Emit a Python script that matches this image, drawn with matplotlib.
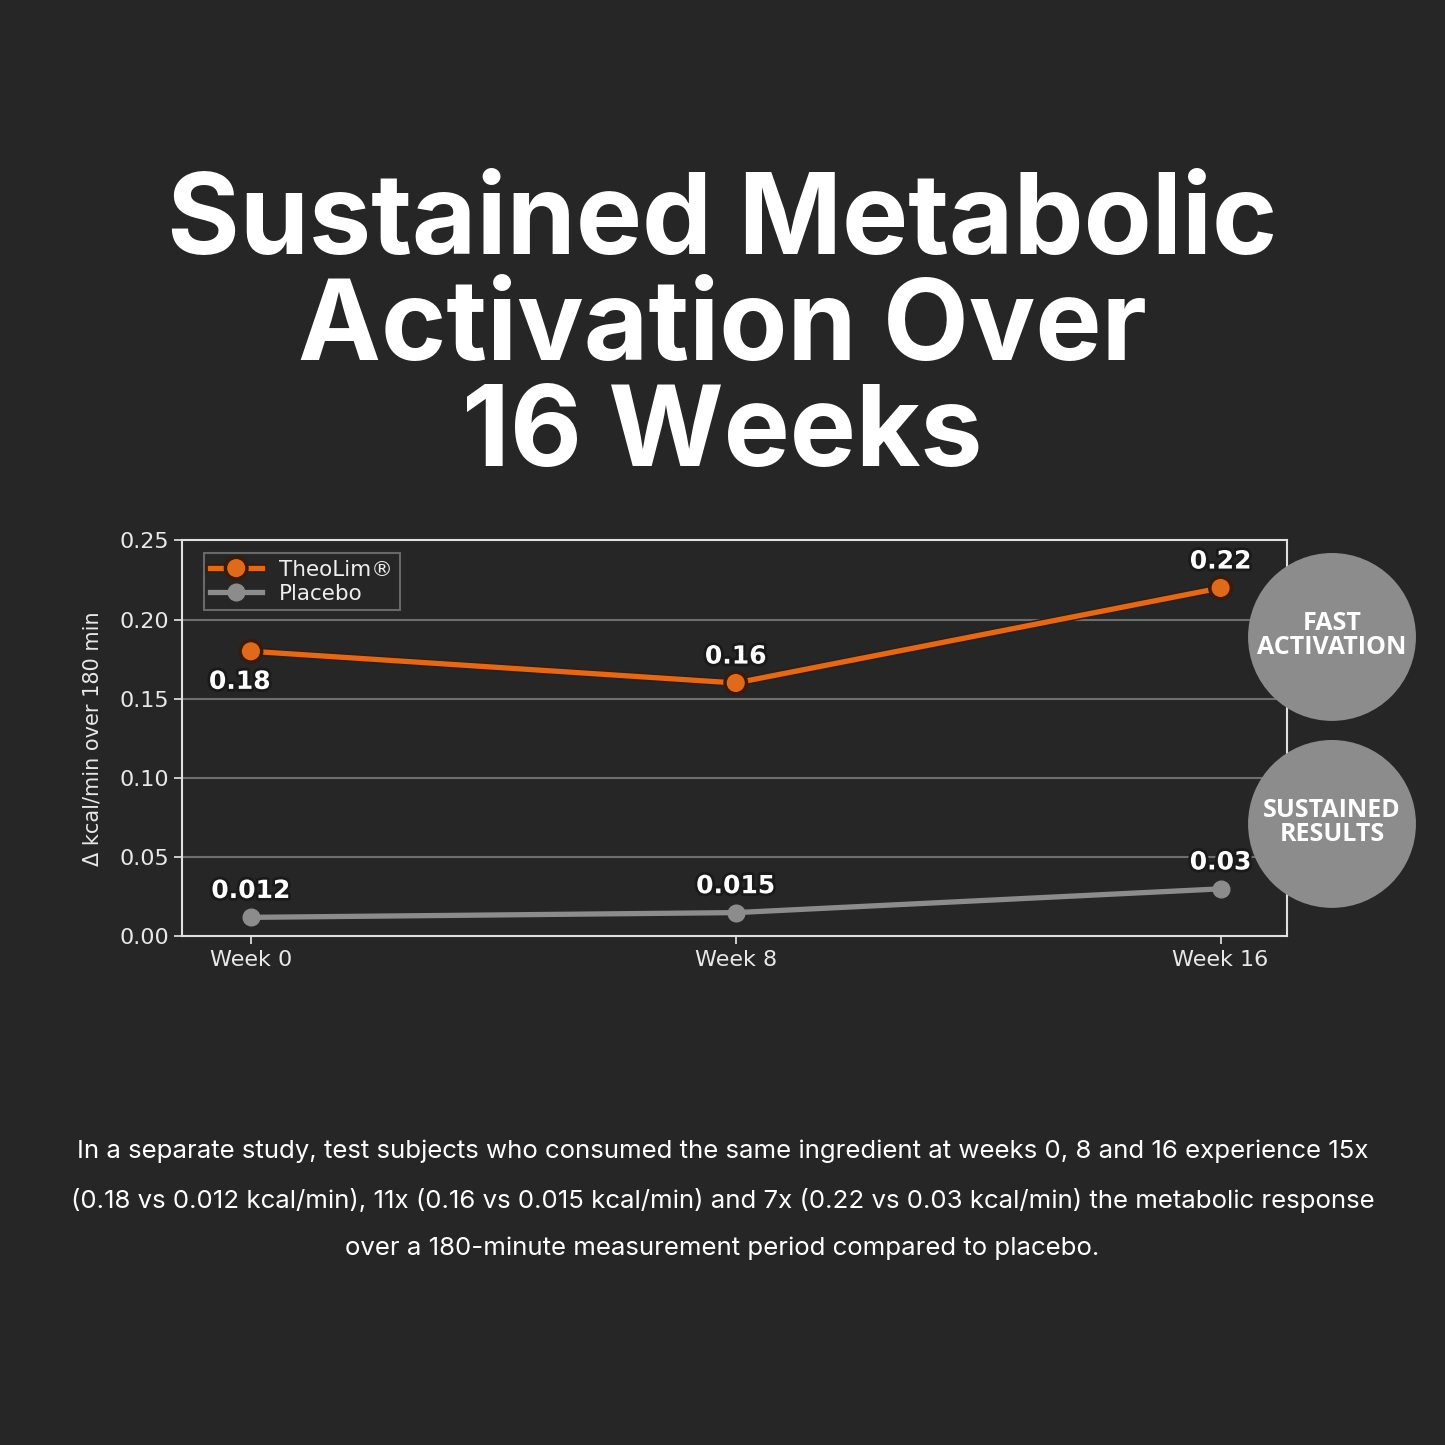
import matplotlib
matplotlib.use("Agg")
import matplotlib.pyplot as plt
import matplotlib.patheffects as pe
from matplotlib.patches import Circle

# data
weeks = ["Week 0", "Week 8", "Week 16"]
theolim = [0.18, 0.16, 0.22]
placebo = [0.012, 0.015, 0.03]
theolim_labels = ["0.18", "0.16", "0.22"]
placebo_labels = ["0.012", "0.015", "0.03"]
yticks = [0.00, 0.05, 0.10, 0.15, 0.20, 0.25]

BG = "#262626"
ORANGE = "#E06A1B"
GREY = "#8C8C8C"

title = "Sustained Metabolic\nActivation Over\n16 Weeks"
caption = ("In a separate study, test subjects who consumed the same ingredient at weeks 0, 8 and 16 experience 15x\n"
           "(0.18 vs 0.012 kcal/min), 11x (0.16 vs 0.015 kcal/min) and 7x (0.22 vs 0.03 kcal/min) the metabolic response\n"
           "over a 180-minute measurement period compared to placebo.")

fig = plt.figure(figsize=(14.45, 14.45), dpi=100, facecolor=BG)

fig.text(0.5, 0.7715, title, ha="center", va="center", color="white",
         fontsize=80, fontweight="bold", family="Inter", linespacing=1.01)

ax = fig.add_axes([0.126, 0.352, 0.765, 0.274])
ax.set_facecolor(BG)
x = range(len(weeks))
stroke = [pe.Stroke(linewidth=6, foreground="#3a1a08"), pe.Normal()]
ax.plot(x, theolim, color=ORANGE, lw=3.8, marker="o", ms=12, label="TheoLim®",
        path_effects=stroke, zorder=4)
ax.plot(x, placebo, color=GREY, lw=3.8, marker="o", ms=12, label="Placebo", zorder=4)

ax.set_xlim(-0.142, 2.138)
ax.set_ylim(0, 0.25)
ax.set_yticks(yticks)
ax.set_yticklabels([f"{v:.2f}" for v in yticks])
ax.set_xticks(list(x))
ax.set_xticklabels(weeks)
ax.tick_params(colors="#e8e8e8", labelsize=16, length=6, width=1.2)
ax.set_ylabel("Δ kcal/min over 180 min", color="#e8e8e8", fontsize=15, labelpad=12)
for s in ax.spines.values():
    s.set_color("#e0e0e0")
    s.set_linewidth(1.5)
for v in yticks[1:-1]:
    ax.axhline(v, color="#6e6e6e", lw=1.5, zorder=1)

txt_fx = [pe.withStroke(linewidth=4, foreground="#1a1a1a")]
offs_t = [(-8, -22), (0, 19), (0, 19)]
for i, (v, lab) in enumerate(zip(theolim, theolim_labels)):
    ax.annotate(lab, (i, v), xytext=offs_t[i], textcoords="offset points",
                ha="center", va="center", color="white", fontsize=18,
                fontweight="bold", path_effects=txt_fx, zorder=6)
for i, (v, lab) in enumerate(zip(placebo, placebo_labels)):
    ax.annotate(lab, (i, v), xytext=(0, 19), textcoords="offset points",
                ha="center", va="center", color="white", fontsize=18,
                fontweight="bold", path_effects=txt_fx, zorder=6)

leg = ax.legend(loc="upper left", fontsize=15.5, frameon=True, fancybox=False,
                facecolor=BG, edgecolor="#7a7a7a", borderpad=0.3,
                handlelength=2.4, labelspacing=0.2, bbox_to_anchor=(0.01, 0.995))
leg.get_frame().set_linewidth(1.5)
for t in leg.get_texts():
    t.set_color("#eeeeee")

# badges
for cy, lab in [(0.5592, "FAST\nACTIVATION"), (0.4298, "SUSTAINED\nRESULTS")]:
    fig.add_artist(Circle((0.9218, cy), 0.0581, transform=fig.transFigure,
                          facecolor=GREY, edgecolor="none", zorder=5))
    fig.text(0.9218, cy + 0.001, lab, ha="center", va="center", color="white",
             fontsize=18, fontweight="bold", family="Open Sans", linespacing=0.95,
             zorder=6)

fig.text(0.5, 0.1696, caption, ha="center", va="center", color="white",
         fontsize=18.6, family="Inter", linespacing=2.25)

fig.savefig("out.png", dpi=100, facecolor=BG)
